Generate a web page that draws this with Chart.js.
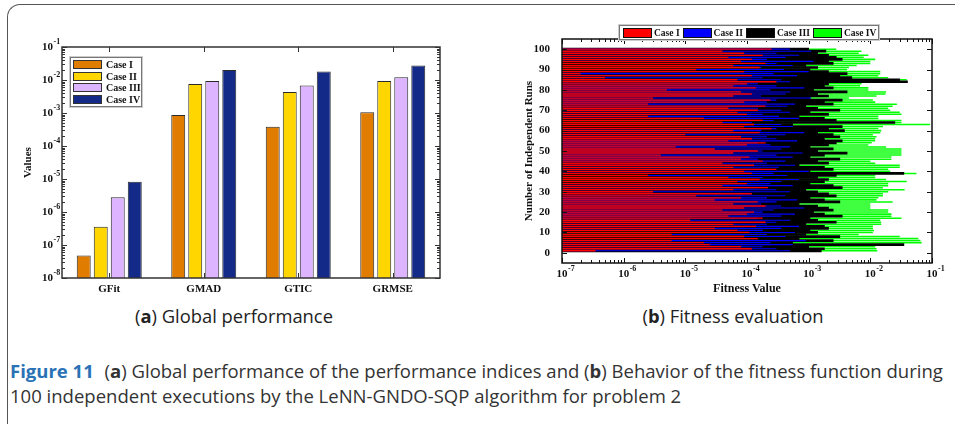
<!DOCTYPE html>
<html lang="en">
<head>
  <meta charset="UTF-8">
  <title>Figure 11 - Global performance and fitness evaluation</title>
  <script src="https://cdn.jsdelivr.net/npm/chart.js"></script>
  <style>
    body {
      margin: 0;
      width: 955px;
      height: 424px;
      background: #fff;
      position: relative;
      overflow: hidden;
      font-family: "Liberation Serif", serif;
    }
    .frame {
      position: absolute;
      left: 7px;
      top: 4px;
      width: 1000px;
      height: 460px;
      border-left: 1px solid #555;
      border-top: 1px solid #555;
      border-top-left-radius: 13px;
    }
    canvas {
      position: absolute;
      top: 0;
    }
    #perfChart { left: 0; }
    #fitChart { left: 480px; }
    .legend {
      position: absolute;
      background: #fff;
      border: 1px solid #777;
      box-shadow: 0 0 0 1px #ccc;
      font: bold 10px "Liberation Serif", serif;
      color: #111;
      white-space: nowrap;
    }
    #legendA { left: 70px; top: 57px; width: 70px; height: 47px; padding-top: 1px; }
    #legendA .row { display: flex; align-items: center; height: 11.5px; }
    #legendA .sw { width: 27px; height: 7px; border: 1px solid #333; margin: 0 4px 0 2px; flex-shrink: 0; }
    #legendB { left: 619px; top: 25px; height: 13px; padding-right: 2px; display: flex; align-items: center; font-size: 9.5px; }
    #legendB .item { display: flex; align-items: center; flex-shrink: 0; }
    #legendB .sw { width: 27px; height: 8px; border: 1px solid #111; margin: 0 2px 0 3px; flex-shrink: 0; }
    .sans {
      font-family: "Open Sans", "Noto Sans", sans-serif;
      color: #333;
      white-space: nowrap;
      position: absolute;
    }
    .sub { top: 303px; transform: translateX(-50%); color: #222; }
    .caption { left: 10px; }
    .caption b.fig { color: #2a72b5; margin-right: 6px; }
  </style>
</head>
<body>
  <div class="frame"></div>

  <canvas id="perfChart" width="475" height="300"></canvas>
  <canvas id="fitChart" width="475" height="300"></canvas>
  <div id="legendA" class="legend"></div>
  <div id="legendB" class="legend"></div>

  <div class="sans sub" id="subA" style="left:234px">(<b>a</b>) Global performance</div>
  <div class="sans sub" id="subB" style="left:733px">(<b>b</b>) Fitness evaluation</div>

  <div class="sans caption" id="cap1" style="top:358px"><b class="fig">Figure 11</b> (<b>a</b>) Global performance of the performance indices and (<b>b</b>) Behavior of the fitness function during</div>
  <div class="sans caption" id="cap2" style="top:383px">100 independent executions by the LeNN-GNDO-SQP algorithm for problem 2</div>

  <script>
    // ---- data ----
    const caseNames = ['Case I', 'Case II', 'Case III', 'Case IV'];

    // (a) global performance indices
    const indices = ['GFit', 'GMAD', 'GTIC', 'GRMSE'];
    const perfCase1 = [4.8e-8, 8.7e-4, 3.8e-4, 1.05e-3];
    const perfCase2 = [3.6e-7, 7.6e-3, 4.3e-3, 9.3e-3];
    const perfCase3 = [2.8e-6, 9.3e-3, 6.8e-3, 1.22e-2];
    const perfCase4 = [8.3e-6, 2.0e-2, 1.8e-2, 2.75e-2];
    const perfColors = ['#E07C00', '#FFD600', '#DDB4FF', '#142A88'];

    // (b) fitness value of runs 1..100
    const fitCase1 = [
      3.5e-7, 1.2e-4, 8e-5, 2.5e-5, 2e-5, 6e-6, 1.5e-4, 9e-5, 6e-6, 1.1e-4,
      7e-5, 3e-5, 1.4e-4, 6e-5, 2e-4, 1.2e-5, 1.8e-4, 5e-5, 1e-4, 1.3e-4,
      4e-5, 9e-5, 2e-4, 6e-5, 1.5e-4, 3e-5, 8e-5, 1.5e-5, 1.2e-4, 3e-6,
      6e-5, 2.2e-4, 4e-5, 1e-4, 7e-5, 1.6e-4, 5e-5, 2.5e-6, 1.2e-4, 9e-5,
      3e-4, 6e-5, 1.3e-4, 4e-5, 1.8e-4, 8e-5, 1.1e-4, 4e-6, 6e-5, 1.5e-4,
      3e-5, 7e-6, 1e-4, 2e-4, 5e-5, 1.2e-4, 8e-5, 1e-5, 1.6e-4, 6e-5,
      2.5e-4, 9e-5, 1.3e-4, 4e-5, 1.8e-4, 2e-5, 2.5e-6, 1e-4, 7e-5, 1.5e-4,
      5e-5, 2e-4, 2.5e-6, 9e-5, 2.4e-4, 3e-6, 6e-5, 1.2e-4, 8e-5, 5e-6,
      1.4e-4, 6e-5, 1e-4, 3e-4, 7e-5, 5e-7, 1.2e-4, 2e-7, 9e-5, 1.5e-5,
      1.6e-4, 6e-5, 2e-4, 8e-5, 1.2e-4, 5e-5, 1.8e-4, 9e-5, 4e-5, 2.5e-4
    ];
    const fitCase2 = [
      5e-4, 3e-4, 1.8e-4, 5.5e-4, 2.4e-4, 9e-4, 1.5e-4, 4.2e-4, 2.1e-4, 6e-4,
      1.8e-4, 3.6e-4, 7e-4, 2.1e-4, 3e-4, 5e-4, 1.5e-4, 3.6e-4, 6e-4, 1.8e-4,
      2.7e-4, 8.5e-4, 3.6e-4, 1.7e-4, 3e-4, 6.5e-4, 2.1e-4, 4.2e-4, 1.2e-4, 5e-4,
      3e-4, 1.5e-4, 5.5e-4, 2.4e-4, 3.6e-4, 7e-4, 1.8e-4, 4.5e-4, 2.7e-4, 1e-3,
      1.7e-4, 3.3e-4, 6e-4, 2.1e-4, 4.2e-4, 1.5e-4, 5.5e-4, 3e-4, 8e-4, 1.8e-4,
      3.6e-4, 5e-4, 2.4e-4, 1.5e-4, 6.5e-4, 3e-4, 2.1e-4, 4.2e-4, 8.5e-4, 1.7e-4,
      3e-4, 5.5e-4, 3.6e-4, 1.2e-4, 2.7e-4, 7e-4, 3.3e-4, 1.8e-4, 5e-4, 3.6e-4,
      1.5e-4, 4.5e-4, 6e-4, 2.1e-4, 3e-4, 1.1e-3, 1.7e-4, 4.2e-4, 5e-4, 2.4e-4,
      8.5e-4, 3e-4, 1.5e-4, 5e-4, 3.6e-4, 1.8e-4, 6.5e-4, 2.7e-4, 1e-3, 4e-4,
      1.7e-4, 5.5e-4, 3e-4, 1.2e-3, 2.1e-4, 4.2e-4, 7e-4, 3e-4, 1.1e-3, 5e-4
    ];
    const fitCase3 = [
      1.6e-3, 1.8e-3, 1e-3, 3.5e-2, 5.5e-4, 2.5e-3, 7e-4, 3.2e-3, 9e-4, 1.4e-3,
      1.05e-3, 2.1e-3, 1.8e-3, 9e-4, 2.8e-3, 1.4e-3, 1.05e-3, 3.5e-3, 1.8e-3, 1.2e-3,
      2.5e-3, 2.1e-3, 1.4e-3, 7e-4, 3.2e-3, 1.8e-3, 1.05e-3, 2.8e-3, 2.1e-3, 1.4e-3,
      9e-4, 3.5e-3, 2.5e-3, 1.05e-3, 1.8e-3, 2.1e-3, 1.4e-3, 2.8e-3, 3.5e-2, 1.05e-3,
      2.5e-3, 1.8e-3, 7e-4, 2.1e-3, 1.4e-3, 3.2e-3, 1.05e-3, 1.8e-3, 4.2e-3, 1.4e-3,
      2.5e-3, 1.05e-3, 2.1e-3, 2.8e-3, 3.5e-3, 1.8e-3, 3.2e-3, 2.5e-3, 1.4e-3, 3.8e-3,
      2.1e-3, 3.5e-3, 5.5e-4, 2.5e-2, 2.8e-3, 1.8e-3, 7e-4, 2.1e-3, 1.05e-3, 3.2e-3,
      1.4e-3, 9e-4, 2.5e-3, 1.8e-3, 3.5e-3, 1.05e-3, 2.1e-3, 1.4e-3, 4.2e-3, 1.2e-3,
      2.5e-3, 1.8e-3, 2.1e-3, 4e-2, 3e-2, 5e-3, 3.2e-3, 4.2e-3, 2.1e-3, 1.05e-3,
      1.4e-3, 9e-4, 2.5e-3, 2.1e-3, 3.5e-3, 2.8e-3, 2.1e-3, 1.4e-3, 1.9e-3, 1e-3
    ];
    const fitCase4 = [
      1.3e-2, 1.26e-2, 1.2e-2, 1.26e-2, 6.8e-2, 6.5e-2, 6e-2, 3e-2, 6.5e-3, 1.1e-2,
      1.15e-2, 1.1e-2, 1.1e-2, 1.5e-2, 1.5e-2, 1.45e-2, 3.2e-2, 2.2e-2, 2.2e-2, 1.95e-2,
      1.95e-2, 1e-2, 1e-2, 1e-2, 2.3e-2, 1.26e-2, 1.35e-2, 1.6e-2, 1.6e-2, 1.95e-2,
      3.6e-2, 1.6e-2, 1.95e-2, 1.95e-2, 3.9e-2, 1.8e-2, 1.2e-2, 1.2e-2, 5.6e-2, 2.1e-2,
      1.95e-2, 3e-2, 3e-2, 1.2e-2, 1e-2, 2.2e-2, 2.2e-2, 3.2e-2, 3.2e-2, 3.2e-2,
      3.2e-2, 1.8e-2, 9.3e-3, 1.05e-2, 1.2e-2, 1.2e-2, 1.26e-2, 1.1e-2, 1.45e-2, 1.5e-2,
      1.35e-2, 1.6e-2, 9.3e-2, 3.2e-2, 3.2e-2, 1.35e-2, 1.35e-2, 3.2e-2, 3e-2, 2.1e-2,
      1.95e-2, 2.3e-2, 2.7e-2, 1.2e-2, 1.1e-2, 4.5e-3, 1.26e-2, 1.76e-2, 1.8e-2, 9.3e-3,
      9.3e-3, 6.8e-3, 7.2e-3, 1e-2, 3.9e-2, 1.95e-2, 1.35e-2, 1.45e-2, 1.45e-2, 4.2e-3,
      4.5e-3, 6e-3, 1e-2, 1e-2, 1.2e-2, 7.8e-3, 9.3e-3, 6.5e-3, 7.2e-3, 2.8e-3
    ];
    const fitColors = ['#FF0000', '#0000FF', '#000000', '#00FF00'];
    const fitThickness = [0.65, 0.55, 1, 0.75];
    const runTicks = [0, 10, 20, 30, 40, 50, 60, 70, 80, 90, 100];

    // ---- helpers ----
    function isDecade(v) {
      const l = Math.log10(v);
      return Math.abs(l - Math.round(l)) < 1e-6;
    }

    // 1..9 x 10^n ticks, labels only on decades
    function logTicks(scale) {
      const ticks = [];
      const lo = Math.round(Math.log10(scale.min));
      const hi = Math.round(Math.log10(scale.max));
      for (let e = lo; e < hi; e++) {
        for (let m = 1; m < 10; m++) ticks.push({ value: m * Math.pow(10, e) });
      }
      ticks.push({ value: Math.pow(10, hi) });
      scale.ticks = ticks;
    }

    const TICK_FONT = 'bold 11px "Liberation Serif", serif';
    const EXP_FONT = 'bold 8px "Liberation Serif", serif';

    // MATLAB-like box with inward ticks, plus superscript exponents on decade labels
    const boxTicks = {
      id: 'boxTicks',
      afterDraw(chart, args, opts) {
        const { ctx, chartArea: a } = chart;
        ctx.save();
        ctx.strokeStyle = opts.color || '#222';
        ctx.lineWidth = 1;
        Object.values(chart.scales).forEach(s => {
          s.ticks.forEach((t, i) => {
            const major = s.type !== 'logarithmic' || isDecade(t.value);
            const len = major ? 5 : 3;
            const p = Math.round(s.getPixelForTick(i)) + 0.5;
            ctx.beginPath();
            if (s.isHorizontal()) {
              ctx.moveTo(p, a.bottom); ctx.lineTo(p, a.bottom - len);
              ctx.moveTo(p, a.top); ctx.lineTo(p, a.top + len);
            } else {
              ctx.moveTo(a.left, p); ctx.lineTo(a.left + len, p);
              ctx.moveTo(a.right, p); ctx.lineTo(a.right - len, p);
            }
            ctx.stroke();
          });
        });
        ctx.lineWidth = 1.5;
        ctx.strokeRect(a.left, a.top, a.right - a.left, a.bottom - a.top);

        // exponents
        ctx.fillStyle = '#111';
        ctx.textBaseline = 'top';
        ctx.textAlign = 'left';
        Object.values(chart.scales).forEach(s => {
          if (s.type !== 'logarithmic') return;
          ctx.font = TICK_FONT;
          const w10 = ctx.measureText('10').width;
          const pad = s.options.ticks.padding;
          ctx.font = EXP_FONT;
          s.ticks.forEach((t, i) => {
            if (!isDecade(t.value)) return;
            const exp = String(Math.round(Math.log10(t.value)));
            const p = s.getPixelForTick(i);
            if (s.isHorizontal()) {
              ctx.fillText(exp, p + w10 / 2 + 0.5, a.bottom + pad - 3);
            } else {
              ctx.fillText(exp, a.left - pad + 0.5, p - 9);
            }
          });
        });
        ctx.restore();
      }
    };

    Chart.defaults.font.family = '"Liberation Serif", "Times New Roman", serif';
    Chart.defaults.font.weight = 'bold';
    Chart.defaults.font.size = 11;
    Chart.defaults.color = '#111';

    const decadeBase = v => (isDecade(v) ? '10' : '');

    // ---- legends ----
    const legendA = document.getElementById('legendA');
    caseNames.forEach((name, i) => {
      const row = document.createElement('div');
      row.className = 'row';
      row.innerHTML = '<span class="sw" style="background:' + perfColors[i] + '"></span>' + name;
      legendA.appendChild(row);
    });
    const legendB = document.getElementById('legendB');
    caseNames.forEach((name, i) => {
      const item = document.createElement('span');
      item.className = 'item';
      item.innerHTML = '<span class="sw" style="background:' + fitColors[i] + '"></span>' + name;
      legendB.appendChild(item);
    });

    // ---- (a) global performance ----
    const perfSeries = [perfCase1, perfCase2, perfCase3, perfCase4];
    new Chart(document.getElementById('perfChart'), {
      type: 'bar',
      data: {
        labels: indices,
        datasets: perfSeries.map((vals, i) => ({
          label: caseNames[i],
          data: vals,
          backgroundColor: perfColors[i],
          borderColor: '#2a2a2a',
          borderWidth: 1,
          categoryPercentage: 0.72,
          barPercentage: 0.82
        }))
      },
      options: {
        responsive: false,
        animation: false,
        layout: { padding: { left: 22, top: 47, right: 35, bottom: 0 } },
        plugins: {
          legend: { display: false },
          tooltip: { enabled: false },
          boxTicks: { color: '#333' }
        },
        scales: {
          x: {
            grid: { display: false, drawTicks: false },
            border: { display: false },
            ticks: { padding: 5 },
            afterFit: s => { s.height = 22; }
          },
          y: {
            type: 'logarithmic',
            min: 1e-8,
            max: 1e-1,
            afterBuildTicks: logTicks,
            afterFit: s => { s.width = 40; },
            grid: { display: false, drawTicks: false },
            border: { display: false },
            ticks: { autoSkip: false, padding: 9, callback: decadeBase },
            title: { display: true, text: 'Values', padding: 0 }
          }
        }
      },
      plugins: [boxTicks]
    });

    // ---- (b) fitness evaluation ----
    const fitSeries = [fitCase1, fitCase2, fitCase3, fitCase4];
    new Chart(document.getElementById('fitChart'), {
      type: 'bar',
      data: {
        datasets: fitSeries.map((vals, i) => ({
          label: caseNames[i],
          data: vals.map((v, k) => ({ x: v, y: k + 1 })),
          backgroundColor: fitColors[i],
          borderWidth: 0,
          grouped: false,
          categoryPercentage: 1,
          barPercentage: fitThickness[i]
        }))
      },
      options: {
        indexAxis: 'y',
        responsive: false,
        animation: false,
        layout: { padding: { left: 43, top: 39, right: 23, bottom: 0 } },
        plugins: {
          legend: { display: false },
          tooltip: { enabled: false },
          boxTicks: { color: '#111' }
        },
        scales: {
          x: {
            type: 'logarithmic',
            min: 1e-7,
            max: 1e-1,
            afterBuildTicks: logTicks,
            afterFit: s => { s.height = 37; },
            grid: { display: false, drawTicks: false },
            border: { display: false },
            ticks: { autoSkip: false, maxRotation: 0, padding: 5, callback: decadeBase },
            title: { display: true, text: 'Fitness Value', font: { size: 12 } }
          },
          y: {
            type: 'linear',
            min: -5,
            max: 105,
            offset: false,
            afterBuildTicks: s => { s.ticks = runTicks.map(v => ({ value: v })); },
            afterFit: s => { s.width = 39; },
            grid: { display: false, drawTicks: false, offset: false },
            border: { display: false },
            ticks: { padding: 12 },
            title: { display: true, text: 'Number of Independent Runs', padding: 0 }
          }
        }
      },
      plugins: [boxTicks]
    });

    // ---- caption sizing: line 1 spans the page width, sub-captions match ----
    const cap1 = document.getElementById('cap1');
    cap1.style.fontSize = '16px';
    const capSize = 16 * 934 / cap1.getBoundingClientRect().width;
    document.querySelectorAll('.caption').forEach(el => { el.style.fontSize = capSize.toFixed(2) + 'px'; });
    const subA = document.getElementById('subA');
    subA.style.fontSize = '16px';
    const subSize = 16 * 198 / subA.getBoundingClientRect().width;
    document.querySelectorAll('.sub').forEach(el => { el.style.fontSize = subSize.toFixed(2) + 'px'; });
  </script>
</body>
</html>
